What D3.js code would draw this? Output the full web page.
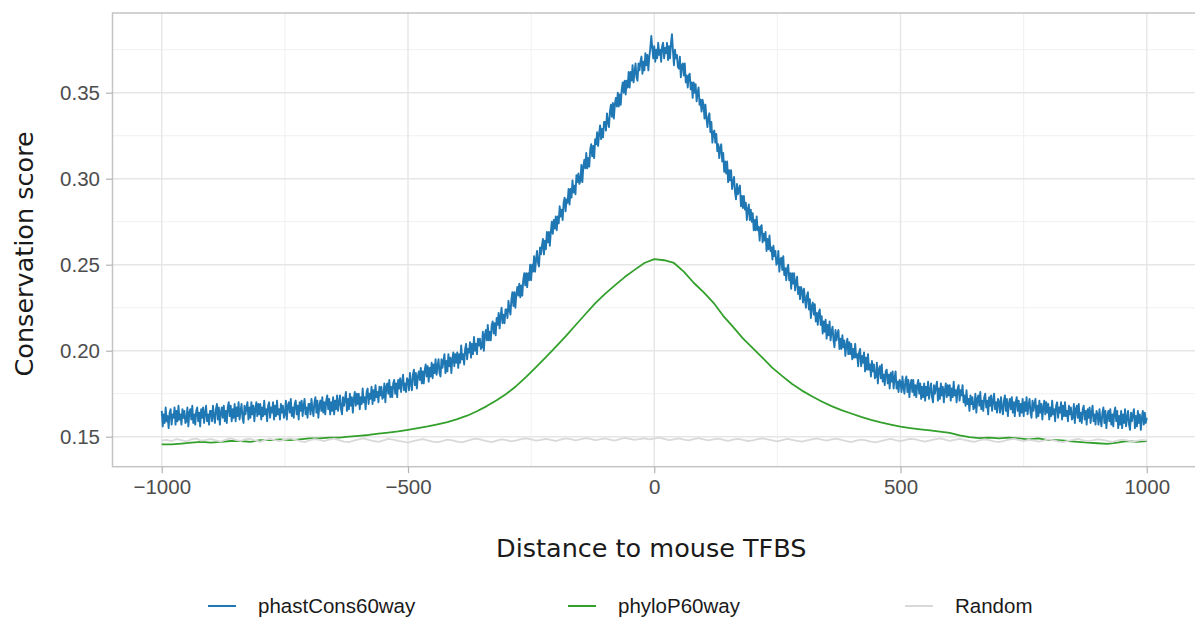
<!DOCTYPE html>
<html>
<head>
<meta charset="utf-8">
<script src="https://cdn.jsdelivr.net/npm/d3@7"></script>
<style>
  html, body { margin: 0; padding: 0; background: #ffffff; }
  svg { display: block; }
</style>
</head>
<body>
<svg id="chart" width="1195" height="619"></svg>
<script>
// Distance of each sample from the TFBS centre (bp)
const xStart = -1000, xEnd = 1000;
const phastStep = 2, phyloStep = 20, randomStep = 10;

const seriesNames = ["phastCons60way", "phyloP60way", "Random"];
const seriesColors = ["#1f78b4", "#33a02c", "#d9d9d9"];

const xTicks = [-1000, -500, 0, 500, 1000];
const xMinor = [-750, -250, 250, 750];
const yTicks = [0.15, 0.20, 0.25, 0.30, 0.35];
const yMinor = [0.175, 0.225, 0.275, 0.325, 0.375];

// phastCons60way mean score, every 2 bp (one row = 50 bp)
const phastCons = [
  0.165,0.156,0.163,0.158,0.167,0.159,0.162,0.155,0.164,0.166,0.157,0.163,0.161,0.167,0.157,0.165,0.159,0.168,0.160,0.163,0.157,0.166,0.161,0.165,0.158,
  0.159,0.167,0.156,0.164,0.166,0.160,0.168,0.158,0.163,0.157,0.165,0.167,0.159,0.164,0.156,0.166,0.161,0.167,0.158,0.164,0.168,0.159,0.163,0.157,0.165,
  0.165,0.159,0.168,0.162,0.158,0.166,0.169,0.160,0.167,0.157,0.164,0.167,0.161,0.168,0.159,0.165,0.158,0.167,0.170,0.162,0.168,0.159,0.166,0.161,0.169,
  0.159,0.167,0.162,0.170,0.160,0.165,0.169,0.161,0.158,0.168,0.163,0.167,0.170,0.160,0.167,0.161,0.170,0.163,0.168,0.159,0.166,0.170,0.162,0.169,0.163,
  0.169,0.160,0.167,0.162,0.171,0.163,0.166,0.159,0.168,0.170,0.161,0.167,0.164,0.170,0.160,0.168,0.162,0.171,0.163,0.166,0.160,0.169,0.164,0.168,0.161,
  0.163,0.171,0.160,0.168,0.170,0.164,0.172,0.162,0.167,0.161,0.169,0.171,0.163,0.168,0.160,0.170,0.165,0.171,0.162,0.168,0.172,0.163,0.167,0.161,0.169,
  0.169,0.163,0.172,0.166,0.162,0.170,0.173,0.164,0.171,0.161,0.168,0.171,0.165,0.173,0.164,0.170,0.163,0.171,0.174,0.166,0.172,0.163,0.170,0.165,0.173,
  0.163,0.171,0.166,0.174,0.165,0.170,0.174,0.166,0.163,0.173,0.168,0.172,0.176,0.165,0.172,0.166,0.175,0.168,0.173,0.164,0.172,0.176,0.168,0.175,0.169,
  0.175,0.166,0.173,0.169,0.178,0.170,0.173,0.166,0.176,0.178,0.169,0.175,0.172,0.179,0.169,0.177,0.171,0.180,0.173,0.176,0.170,0.179,0.174,0.179,0.172,
  0.173,0.181,0.170,0.179,0.181,0.175,0.183,0.173,0.179,0.173,0.181,0.183,0.175,0.181,0.173,0.183,0.178,0.184,0.176,0.182,0.186,0.177,0.181,0.176,0.184,
  0.183,0.177,0.187,0.181,0.177,0.186,0.189,0.180,0.187,0.178,0.185,0.188,0.183,0.190,0.181,0.188,0.181,0.189,0.192,0.185,0.191,0.182,0.190,0.185,0.193,
  0.184,0.192,0.187,0.195,0.186,0.191,0.195,0.187,0.185,0.195,0.190,0.194,0.198,0.187,0.194,0.188,0.198,0.191,0.196,0.187,0.195,0.199,0.191,0.198,0.193,
  0.199,0.190,0.198,0.193,0.203,0.195,0.198,0.192,0.201,0.204,0.195,0.201,0.199,0.205,0.196,0.204,0.198,0.208,0.200,0.204,0.198,0.207,0.203,0.207,0.201,
  0.202,0.211,0.200,0.209,0.212,0.206,0.215,0.206,0.211,0.206,0.215,0.217,0.210,0.216,0.209,0.219,0.215,0.222,0.213,0.220,0.225,0.216,0.221,0.216,0.224,
  0.224,0.219,0.229,0.224,0.221,0.230,0.234,0.226,0.234,0.225,0.233,0.237,0.232,0.239,0.231,0.238,0.232,0.241,0.245,0.238,0.245,0.237,0.245,0.241,0.250,
  0.241,0.250,0.246,0.255,0.246,0.253,0.258,0.251,0.249,0.260,0.256,0.261,0.265,0.256,0.264,0.259,0.269,0.263,0.269,0.261,0.269,0.275,0.268,0.276,0.271,
  0.278,0.270,0.278,0.274,0.284,0.278,0.282,0.276,0.286,0.289,0.281,0.288,0.286,0.294,0.285,0.294,0.289,0.299,0.292,0.296,0.291,0.302,0.298,0.303,0.297,
  0.299,0.308,0.298,0.307,0.311,0.306,0.315,0.306,0.312,0.307,0.317,0.320,0.313,0.319,0.312,0.323,0.320,0.327,0.319,0.326,0.331,0.323,0.329,0.324,0.333,
  0.333,0.328,0.338,0.333,0.330,0.339,0.343,0.336,0.344,0.335,0.343,0.347,0.342,0.350,0.342,0.349,0.343,0.352,0.356,0.350,0.357,0.349,0.357,0.353,0.362,
  0.353,0.362,0.357,0.366,0.356,0.362,0.367,0.359,0.357,0.367,0.363,0.368,0.371,0.361,0.368,0.363,0.373,0.366,0.372,0.363,0.371,0.376,0.383,0.376,0.370,
  0.377,0.368,0.375,0.370,0.379,0.372,0.375,0.368,0.377,0.379,0.370,0.376,0.373,0.379,0.369,0.377,0.370,0.379,0.384,0.374,0.366,0.375,0.370,0.372,0.365,
  0.364,0.371,0.359,0.366,0.367,0.360,0.367,0.356,0.360,0.353,0.360,0.361,0.352,0.356,0.347,0.356,0.350,0.355,0.345,0.350,0.353,0.343,0.346,0.339,0.346,
  0.343,0.335,0.343,0.335,0.330,0.336,0.338,0.327,0.333,0.321,0.327,0.328,0.321,0.326,0.316,0.320,0.312,0.318,0.320,0.310,0.315,0.304,0.310,0.303,0.310,
  0.298,0.305,0.299,0.305,0.294,0.298,0.301,0.292,0.288,0.297,0.291,0.294,0.296,0.284,0.290,0.283,0.290,0.282,0.286,0.276,0.282,0.285,0.276,0.282,0.275,
  0.280,0.270,0.276,0.270,0.278,0.270,0.272,0.264,0.272,0.273,0.263,0.268,0.264,0.269,0.258,0.265,0.259,0.267,0.258,0.260,0.253,0.261,0.255,0.258,0.250,
  0.251,0.258,0.246,0.253,0.254,0.247,0.255,0.244,0.248,0.241,0.248,0.250,0.241,0.245,0.236,0.245,0.239,0.245,0.235,0.240,0.243,0.233,0.237,0.230,0.237,
  0.235,0.228,0.236,0.230,0.225,0.232,0.234,0.224,0.230,0.219,0.226,0.228,0.221,0.227,0.217,0.222,0.215,0.222,0.224,0.215,0.220,0.210,0.217,0.211,0.218,
  0.207,0.215,0.209,0.217,0.206,0.211,0.214,0.206,0.202,0.212,0.206,0.210,0.212,0.201,0.207,0.201,0.209,0.202,0.206,0.197,0.203,0.207,0.198,0.205,0.198,
  0.204,0.195,0.201,0.196,0.204,0.196,0.198,0.191,0.199,0.201,0.191,0.197,0.193,0.199,0.188,0.196,0.189,0.198,0.189,0.192,0.185,0.194,0.188,0.192,0.184,
  0.185,0.193,0.181,0.189,0.191,0.184,0.192,0.182,0.186,0.180,0.188,0.189,0.181,0.186,0.178,0.187,0.182,0.188,0.178,0.184,0.188,0.178,0.182,0.176,0.183,
  0.182,0.176,0.185,0.179,0.175,0.183,0.185,0.176,0.183,0.173,0.180,0.183,0.176,0.183,0.174,0.180,0.173,0.180,0.183,0.175,0.181,0.172,0.179,0.173,0.181,
  0.171,0.179,0.174,0.182,0.172,0.177,0.181,0.173,0.170,0.180,0.175,0.179,0.182,0.171,0.178,0.172,0.181,0.174,0.179,0.170,0.177,0.181,0.173,0.180,0.174,
  0.180,0.171,0.178,0.173,0.182,0.174,0.177,0.170,0.178,0.180,0.171,0.177,0.174,0.180,0.170,0.174,0.168,0.177,0.169,0.172,0.165,0.174,0.169,0.173,0.166,
  0.167,0.175,0.164,0.172,0.174,0.168,0.176,0.166,0.171,0.165,0.173,0.175,0.167,0.171,0.163,0.173,0.168,0.174,0.165,0.171,0.175,0.166,0.170,0.164,0.172,
  0.170,0.164,0.173,0.167,0.163,0.171,0.174,0.165,0.172,0.162,0.169,0.172,0.166,0.173,0.164,0.170,0.162,0.170,0.173,0.165,0.171,0.162,0.169,0.164,0.172,
  0.162,0.170,0.165,0.173,0.163,0.168,0.172,0.164,0.161,0.171,0.165,0.169,0.172,0.161,0.168,0.162,0.171,0.164,0.169,0.160,0.167,0.171,0.163,0.170,0.164,
  0.169,0.160,0.167,0.162,0.171,0.163,0.166,0.159,0.168,0.170,0.161,0.167,0.164,0.170,0.160,0.168,0.162,0.170,0.162,0.165,0.159,0.168,0.163,0.167,0.160,
  0.161,0.169,0.158,0.166,0.168,0.161,0.169,0.159,0.164,0.158,0.166,0.168,0.160,0.165,0.157,0.166,0.161,0.167,0.158,0.164,0.168,0.159,0.163,0.157,0.165,
  0.163,0.157,0.166,0.160,0.156,0.164,0.167,0.158,0.165,0.155,0.162,0.165,0.159,0.166,0.157,0.163,0.156,0.164,0.167,0.159,0.165,0.155,0.162,0.157,0.165,
  0.155,0.163,0.158,0.166,0.156,0.161,0.165,0.157,0.154,0.164,0.159,0.163,0.166,0.155,0.162,0.156,0.165,0.158,0.163,0.154,0.161,0.165,0.157,0.164,0.158,
  0.161
];

// phyloP60way mean score, every 20 bp
const phyloP = [
  0.1455,0.1455,0.1460,0.1465,0.1470,0.1465,0.1470,0.1475,0.1475,0.1470,
  0.1480,0.1480,0.1485,0.1480,0.1485,0.1490,0.1490,0.1495,0.1495,0.1500,
  0.1505,0.1510,0.1518,0.1524,0.1531,0.1540,0.1550,0.1560,0.1572,0.1585,
  0.1602,0.1622,0.1648,0.1678,0.1712,0.1750,0.1795,0.1848,0.1905,0.1963,
  0.2022,0.2083,0.2148,0.2212,0.2275,0.2330,0.2380,0.2428,0.2470,0.2510,
  0.2532,
  0.2526,0.2510,0.2460,0.2395,0.2340,0.2280,0.2203,0.2138,0.2072,0.2015,
  0.1958,0.1900,0.1852,0.1806,0.1768,0.1735,0.1705,0.1678,0.1655,0.1635,
  0.1615,0.1598,0.1583,0.1570,0.1558,0.1550,0.1543,0.1537,0.1530,0.1522,
  0.1508,0.1497,0.1492,0.1495,0.1490,0.1495,0.1490,0.1485,0.1490,0.1480,
  0.1480,0.1475,0.1470,0.1465,0.1462,0.1458,0.1465,0.1475,0.1470,0.1475
];

// Random background regions, every 10 bp
const randomBg = [
  0.1478,0.1482,0.1475,0.1486,0.1480,0.1473,0.1484,0.1489,0.1477,0.1481,
  0.1486,0.1479,0.1472,0.1483,0.1490,0.1481,0.1476,0.1485,0.1488,0.1478,
  0.1470,0.1482,0.1487,0.1480,0.1475,0.1484,0.1491,0.1483,0.1476,0.1469,
  0.1478,0.1486,0.1481,0.1474,0.1483,0.1489,0.1480,0.1472,0.1468,0.1477,
  0.1485,0.1490,0.1482,0.1475,0.1470,0.1479,0.1487,0.1483,0.1476,0.1471,
  0.1466,0.1474,0.1480,0.1486,0.1479,0.1472,0.1468,0.1475,0.1483,0.1478,
  0.1471,0.1467,0.1476,0.1484,0.1489,0.1481,0.1474,0.1469,0.1477,0.1485,
  0.1480,0.1473,0.1478,0.1486,0.1491,0.1484,0.1477,0.1482,0.1488,0.1481,
  0.1475,0.1483,0.1490,0.1486,0.1479,0.1484,0.1492,0.1487,0.1480,0.1485,
  0.1490,0.1483,0.1477,0.1486,0.1493,0.1488,0.1481,0.1486,0.1491,0.1484,
  0.1489,0.1494,0.1487,0.1480,0.1485,0.1490,0.1483,0.1478,0.1486,0.1492,
  0.1485,0.1479,0.1484,0.1489,0.1482,0.1476,0.1483,0.1488,0.1481,0.1475,
  0.1479,0.1486,0.1491,0.1484,0.1478,0.1473,0.1480,0.1487,0.1482,0.1476,
  0.1471,0.1479,0.1485,0.1490,0.1483,0.1477,0.1484,0.1489,0.1481,0.1474,
  0.1469,0.1477,0.1483,0.1479,0.1472,0.1467,0.1475,0.1482,0.1487,0.1480,
  0.1474,0.1481,0.1488,0.1484,0.1477,0.1472,0.1479,0.1485,0.1490,0.1483,
  0.1476,0.1482,0.1487,0.1481,0.1475,0.1470,0.1478,0.1485,0.1480,0.1473,
  0.1468,0.1476,0.1483,0.1488,0.1481,0.1475,0.1482,0.1478,0.1471,0.1477,
  0.1484,0.1479,0.1473,0.1469,0.1476,0.1482,0.1487,0.1480,0.1474,0.1479,
  0.1485,0.1481,0.1475,0.1470,0.1477,0.1483,0.1478,0.1472,0.1476,0.1481,
  0.1479
];

const seriesValues = [phastCons, phyloP, randomBg];
const seriesSteps = [phastStep, phyloStep, randomStep];
const seriesWidths = [1.9, 1.8, 1.8];

// ---- layout ----
const svg = d3.select("#chart");
const panel = { left: 112.5, right: 1196, top: 13, bottom: 466.7 };

const xPad = (xEnd - xStart) * 0.05;
const x = d3.scaleLinear()
  .domain([xStart - xPad, xEnd + xPad])
  .range([panel.left, panel.right]);

const y = d3.scaleLinear()
  .domain([0.13256, 0.39634])
  .range([panel.bottom, panel.top]);

const tickFont = "'Liberation Sans', Arial, Helvetica, sans-serif";
const titleFont = "'DejaVu Sans', Verdana, sans-serif";

// panel background
svg.append("rect")
  .attr("x", panel.left).attr("y", panel.top)
  .attr("width", panel.right - panel.left)
  .attr("height", panel.bottom - panel.top)
  .attr("fill", "#ffffff");

const grid = svg.append("g");

// minor grid
grid.selectAll("line.xminor").data(xMinor).join("line")
  .attr("x1", d => x(d)).attr("x2", d => x(d))
  .attr("y1", panel.top).attr("y2", panel.bottom)
  .attr("stroke", "#f0f0f0").attr("stroke-width", 1);
grid.selectAll("line.yminor").data(yMinor).join("line")
  .attr("y1", d => y(d)).attr("y2", d => y(d))
  .attr("x1", panel.left).attr("x2", panel.right)
  .attr("stroke", "#f0f0f0").attr("stroke-width", 1);

// major grid
grid.selectAll("line.xmajor").data(xTicks).join("line")
  .attr("x1", d => x(d)).attr("x2", d => x(d))
  .attr("y1", panel.top).attr("y2", panel.bottom)
  .attr("stroke", "#e6e6e6").attr("stroke-width", 1.4);
grid.selectAll("line.ymajor").data(yTicks).join("line")
  .attr("y1", d => y(d)).attr("y2", d => y(d))
  .attr("x1", panel.left).attr("x2", panel.right)
  .attr("stroke", "#e6e6e6").attr("stroke-width", 1.4);

// ---- series ----
const clipId = "panel-clip";
svg.append("clipPath").attr("id", clipId)
  .append("rect")
  .attr("x", panel.left).attr("y", panel.top)
  .attr("width", panel.right - panel.left)
  .attr("height", panel.bottom - panel.top);

const lines = svg.append("g").attr("clip-path", `url(#${clipId})`);
seriesValues.forEach((vals, k) => {
  const pts = vals.map((v, i) => [xStart + i * seriesSteps[k], v]);
  lines.append("path")
    .datum(pts)
    .attr("fill", "none")
    .attr("stroke", seriesColors[k])
    .attr("stroke-width", seriesWidths[k])
    .attr("stroke-linejoin", "round")
    .attr("d", d3.line().x(d => x(d[0])).y(d => y(d[1])));
});

// panel border
svg.append("rect")
  .attr("x", panel.left).attr("y", panel.top)
  .attr("width", panel.right - panel.left)
  .attr("height", panel.bottom - panel.top)
  .attr("fill", "none")
  .attr("stroke", "#c4c4c4").attr("stroke-width", 1.5);

// ---- axes ----
const xAxis = d3.axisBottom(x)
  .tickValues(xTicks)
  .tickSize(6.5).tickPadding(6)
  .tickFormat(d3.format("d"));
const gx = svg.append("g")
  .attr("transform", `translate(0,${panel.bottom})`)
  .call(xAxis);

const yAxis = d3.axisLeft(y)
  .tickValues(yTicks)
  .tickSize(6.5).tickPadding(6)
  .tickFormat(d3.format(".2f"));
const gy = svg.append("g")
  .attr("transform", `translate(${panel.left},0)`)
  .call(yAxis);

[gx, gy].forEach(g => {
  g.select(".domain").remove();
  g.selectAll(".tick line").attr("stroke", "#b3b3b3").attr("stroke-width", 1.2);
  g.selectAll(".tick text")
    .attr("fill", "#4d4d4d")
    .style("font-family", tickFont)
    .style("font-size", "20.5px");
});

// axis titles
svg.append("text")
  .attr("x", (panel.left + panel.right) / 2 - 3)
  .attr("y", 557)
  .attr("text-anchor", "middle")
  .style("font-family", titleFont)
  .style("font-size", "25.5px")
  .attr("fill", "#1a1a1a")
  .text("Distance to mouse TFBS");

svg.append("text")
  .attr("transform", `translate(33,${(panel.top + panel.bottom) / 2 + 14}) rotate(-90)`)
  .attr("text-anchor", "middle")
  .style("font-family", titleFont)
  .style("font-size", "25.5px")
  .attr("fill", "#1a1a1a")
  .text("Conservation score");

// ---- legend ----
const legendKeyX = [208, 568, 905];
const legendY = 606;
const legend = svg.append("g");
seriesNames.forEach((name, k) => {
  legend.append("line")
    .attr("x1", legendKeyX[k]).attr("x2", legendKeyX[k] + 28)
    .attr("y1", legendY).attr("y2", legendY)
    .attr("stroke", seriesColors[k])
    .attr("stroke-width", 2);
  legend.append("text")
    .attr("x", legendKeyX[k] + 50)
    .attr("y", legendY)
    .attr("dy", "0.35em")
    .style("font-family", tickFont)
    .style("font-size", "20.5px")
    .attr("fill", "#1a1a1a")
    .text(name);
});
</script>
</body>
</html>
